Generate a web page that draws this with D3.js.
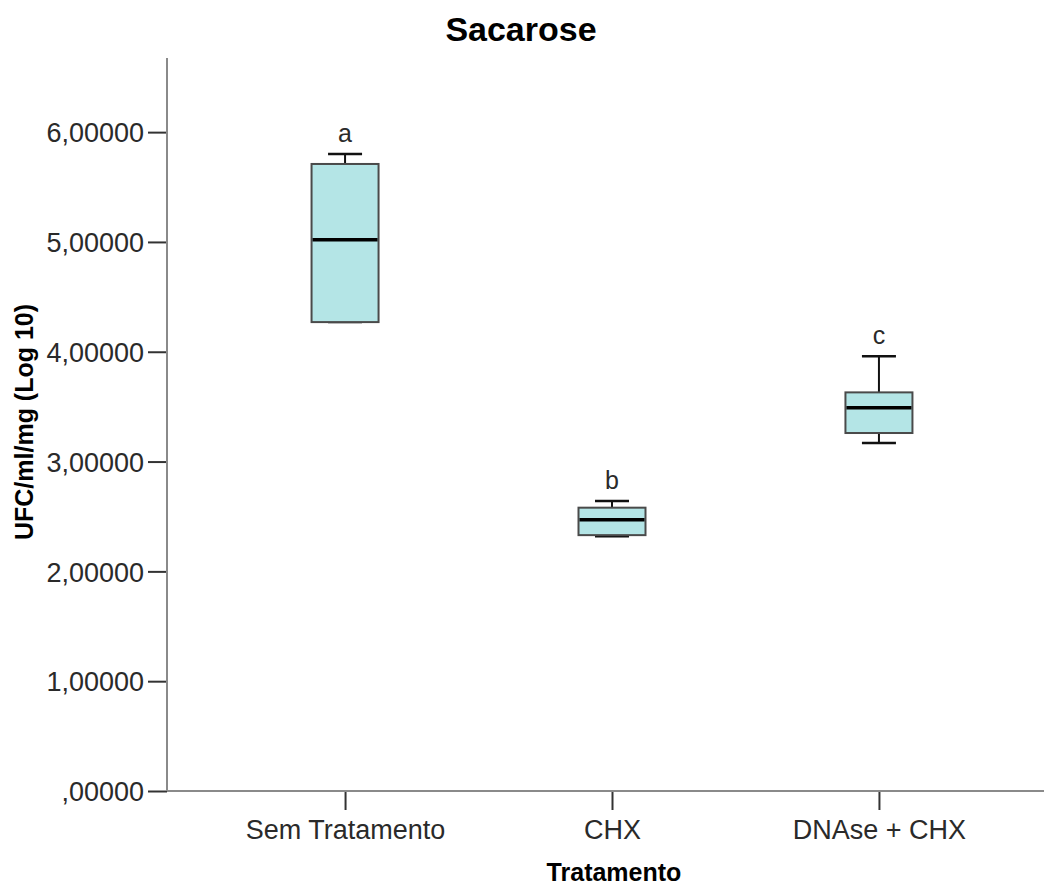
<!DOCTYPE html>
<html>
<head>
<meta charset="utf-8">
<script src="https://cdn.jsdelivr.net/npm/d3@7"></script>
<style>
  body { margin: 0; background: #fff; }
  svg { display: block; font-family: "Liberation Sans", Arial, sans-serif; }
  .tick text { font-size: 27px; fill: #2a2a2a; }
</style>
</head>
<body>
<svg width="1044" height="889"></svg>
<script>
// box plot values
const groups = ["Sem Tratamento", "CHX", "DNAse + CHX"];
const whiskerLow = [4.27, 2.32, 3.17];
const q1 = [4.27, 2.33, 3.26];
const median = [5.02, 2.47, 3.49];
const q3 = [5.71, 2.58, 3.63];
const whiskerHigh = [5.80, 2.64, 3.96];
const letters = ["a", "b", "c"];
const yTicks = [0, 1, 2, 3, 4, 5, 6];

const data = groups.map((g, i) => ({
    group: g,
    lo: whiskerLow[i],
    q1: q1[i],
    med: median[i],
    q3: q3[i],
    hi: whiskerHigh[i],
    letter: letters[i]
}));

const svg = d3.select('svg');
const plotLeft = 167, plotBottom = 791, plotTop = 58, plotRight = 1044;

const xScale = d3.scalePoint()
    .domain(groups)
    .range([plotLeft, 1057])
    .padding(0.667);

const yScale = d3.scaleLinear()
    .domain([0, 6.675])
    .range([plotBottom, plotTop]);

const fmt = v => (v === 0 ? "" : String(v)) + ",00000";

// y axis
const yAxis = svg.append('g')
    .attr('transform', `translate(${plotLeft}, 0)`)
    .call(d3.axisLeft(yScale).tickValues(yTicks).tickSize(19).tickPadding(4).tickFormat(fmt));
yAxis.select('.domain').remove();
yAxis.selectAll('.tick line').attr('stroke', '#333').attr('stroke-width', 2);
yAxis.selectAll('.tick text').attr('dy', '0.36em');

// x axis
const xAxis = svg.append('g')
    .attr('transform', `translate(0, ${plotBottom})`)
    .call(d3.axisBottom(xScale).tickSize(19).tickPadding(10));
xAxis.select('.domain').remove();
xAxis.selectAll('.tick line').attr('stroke', '#333').attr('stroke-width', 2);

// axis lines
svg.append('line')
    .attr('x1', plotLeft).attr('x2', plotLeft)
    .attr('y1', plotTop).attr('y2', plotBottom)
    .attr('stroke', '#8a8a8a').attr('stroke-width', 2);
svg.append('line')
    .attr('x1', plotLeft).attr('x2', plotRight)
    .attr('y1', plotBottom).attr('y2', plotBottom)
    .attr('stroke', '#8a8a8a').attr('stroke-width', 2);

const boxW = 67, capW = 34;

const boxes = svg.selectAll('.box')
    .data(data)
    .enter()
    .append('g')
    .attr('class', 'box');

// whisker stems
boxes.append('line')
    .attr('x1', d => xScale(d.group)).attr('x2', d => xScale(d.group))
    .attr('y1', d => yScale(d.hi)).attr('y2', d => yScale(d.q3))
    .attr('stroke', '#111').attr('stroke-width', 2);
boxes.append('line')
    .attr('x1', d => xScale(d.group)).attr('x2', d => xScale(d.group))
    .attr('y1', d => yScale(d.lo)).attr('y2', d => yScale(d.q1))
    .attr('stroke', '#111').attr('stroke-width', 2);

// caps
['hi', 'lo'].forEach(k => {
    boxes.append('line')
        .attr('x1', d => xScale(d.group) - capW / 2)
        .attr('x2', d => xScale(d.group) + capW / 2)
        .attr('y1', d => yScale(d[k])).attr('y2', d => yScale(d[k]))
        .attr('stroke', '#111').attr('stroke-width', 2.5);
});

boxes.append('rect')
    .attr('x', d => xScale(d.group) - boxW / 2)
    .attr('y', d => yScale(d.q3))
    .attr('width', boxW)
    .attr('height', d => yScale(d.q1) - yScale(d.q3))
    .attr('fill', '#b4e5e6')
    .attr('stroke', '#4a4a4a')
    .attr('stroke-width', 2);

boxes.append('line')
    .attr('x1', d => xScale(d.group) - boxW / 2 + 1)
    .attr('x2', d => xScale(d.group) + boxW / 2 - 1)
    .attr('y1', d => yScale(d.med)).attr('y2', d => yScale(d.med))
    .attr('stroke', '#000').attr('stroke-width', 3.5);

boxes.append('text')
    .attr('x', d => xScale(d.group))
    .attr('y', d => yScale(d.hi) - 12)
    .attr('text-anchor', 'middle')
    .attr('font-size', 25)
    .attr('fill', '#2a2a2a')
    .text(d => d.letter);

// title and axis labels
svg.append('text')
    .attr('x', 521).attr('y', 41)
    .attr('text-anchor', 'middle')
    .attr('font-size', 34).attr('font-weight', 'bold')
    .text('Sacarose');

svg.append('text')
    .attr('x', 614).attr('y', 881)
    .attr('text-anchor', 'middle')
    .attr('font-size', 25).attr('font-weight', 'bold')
    .text('Tratamento');

svg.append('text')
    .attr('transform', 'translate(33, 422) rotate(-90)')
    .attr('text-anchor', 'middle')
    .attr('font-size', 25).attr('font-weight', 'bold')
    .text('UFC/ml/mg (Log 10)');
</script>
</body>
</html>
